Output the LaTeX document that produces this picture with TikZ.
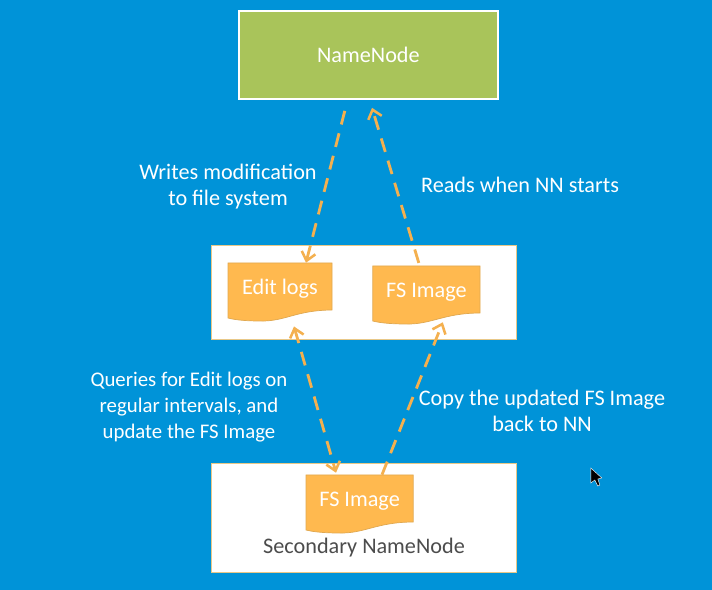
\documentclass[tikz,border=0pt]{standalone}
\usepackage{fontspec}
\setmainfont{Carlito}
\usetikzlibrary{arrows.meta, positioning}
\definecolor{slideblue}{HTML}{0093D8}
\definecolor{namegreen}{HTML}{A9C45A}
\definecolor{docorange}{HTML}{FFB94F}
\definecolor{docedge}{HTML}{E0A850}
\definecolor{storeedge}{HTML}{E8C888}
\definecolor{flowline}{HTML}{F4B04F}
\tikzset{
    namebox/.style={draw=white, line width=1.2pt, fill=namegreen, text=white,
        minimum width=6.475cm, minimum height=2.2cm, font=\fontsize{15.8}{18.5}\selectfont},
    storebox/.style={draw=storeedge, line width=0.7pt, fill=white, minimum width=7.625cm},
    doclabel/.style={inner sep=0pt, text=white, minimum height=1.2cm,
        font=\fontsize{15.8}{18.5}\selectfont},
    steplabel/.style={text=white, align=center, font=\fontsize{15.8}{18.5}\selectfont},
    flow/.style={draw=flowline, line width=2pt, dash pattern=on 10pt off 6.5pt,
        -{Straight Barb[length=6pt, width=10pt, line width=1.8pt]}},
}
% #1 name, #2 position, #3 half width, #4 text
\newcommand{\docshape}[4]{
    \filldraw[fill=docorange, draw=docedge, line width=0.5pt, shift={(#2)}, xscale=#3]
        (-1, 0.6) -- (1, 0.6) -- (1, -0.575)
        .. controls (0.3, -0.58) and (0.1, -0.87) .. (-0.4, -0.85)
        .. controls (-0.6, -0.85) and (-0.85, -0.83) .. (-1, -0.775) -- cycle;
    \node[doclabel, minimum width=#3*2cm] (#1) at (#2) {\raisebox{-5.3pt}[0pt][0pt]{#4}};
}
\begin{document}
\begin{tikzpicture}
        \fill[slideblue] (0, 0) rectangle (17.8, 14.75);
        \node[namebox] (namenode) at (9.21, 13.375) {NameNode};
        \node[storebox, minimum height=2.35cm] (memstore) at (9.11, 7.45) {};
        \node[storebox, minimum height=2.725cm] (secstore) at (9.11, 1.79) {};
        \docshape{editlogs}{7.0, 7.575}{1.3}{Edit logs}
        \docshape{fsimage}{10.66, 7.5}{1.34}{FS Image}
        \docshape{secimage}{8.99, 2.275}{1.34}{FS Image}
        \node[text=black!70, font=\fontsize{15.8}{18.5}\selectfont] (seclabel) at (9.1, 1.05) {Secondary NameNode};
        \node[steplabel] (writeslabel) at (5.7, 10.08) {Writes modification\\to file system};
        \node[steplabel] (readslabel) at (13, 10.12) {Reads when NN starts};
        \node[steplabel, font=\fontsize{14.8}{18.5}\selectfont] (querieslabel) at (4.725, 4.58) {Queries for Edit logs on\\regular intervals, and\\update the FS Image};
        \node[steplabel] (copylabel) at (13.55, 4.47) {Copy the updated FS Image\\back to NN};
        \draw[flow] ([shift={(-0.59, -0.275)}]namenode.south) -- ([xshift=0.65cm]editlogs.north);
        \draw[flow] ([shift={(-0.19, 0.07)}]fsimage.north) -- ([shift={(0.09, -0.2)}]namenode.south);
        \draw[flow, {Straight Barb[length=6pt, width=10pt, line width=1.8pt]}-{Straight Barb[length=6pt, width=10pt, line width=1.8pt]}]
            ([shift={(0.35, -0.38)}]editlogs.south) -- ([shift={(-0.59, 0.05)}]secimage.north);
        \draw[flow] ([xshift=0.56cm]secimage.north) -- ([shift={(0.41, -0.2)}]fsimage.south);
        % mouse pointer
        \filldraw[fill=black, draw=white, line width=0.3pt, shift={(14.77, 3.05)}]
            (0, 0) -- (0, -0.375) -- (0.1, -0.3) -- (0.175, -0.45) -- (0.225, -0.425)
            -- (0.175, -0.275) -- (0.275, -0.25) -- cycle;
    \end{tikzpicture}
\end{document}
